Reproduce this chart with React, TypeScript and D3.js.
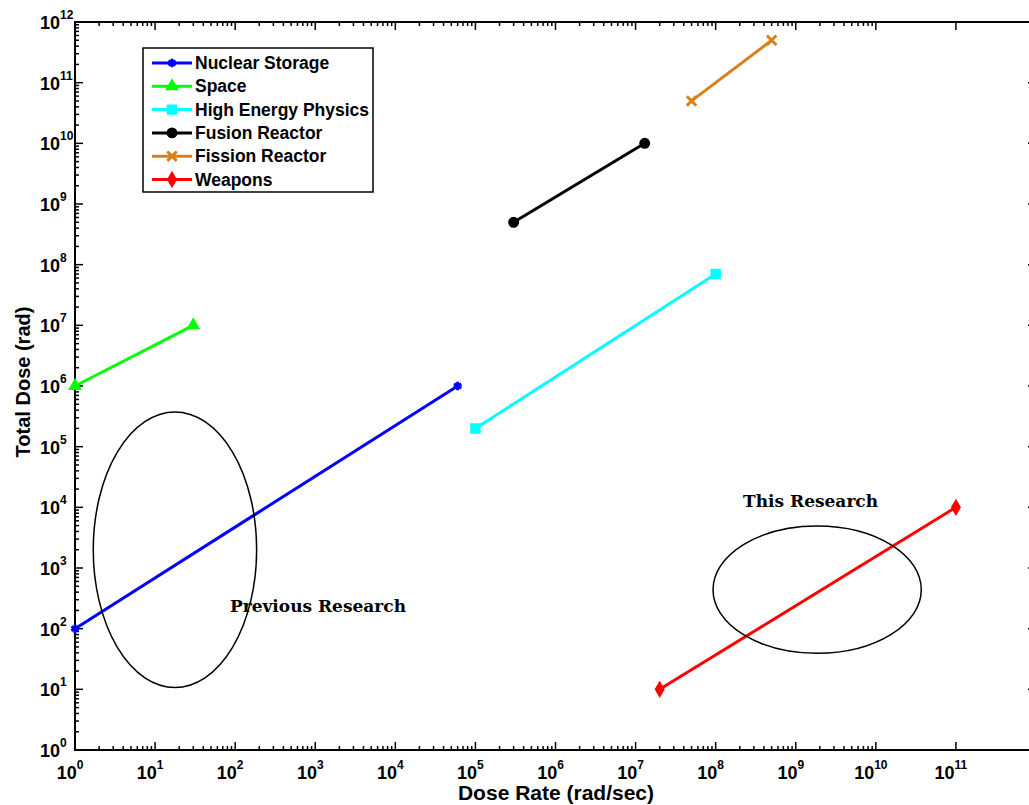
import { useEffect, useRef } from "react";
import * as d3 from "d3";

// Application ranges: [dose rate (rad/sec), total dose (rad)]
const seriesNames = [
  "Nuclear Storage",
  "Space",
  "High Energy Physics",
  "Fusion Reactor",
  "Fission Reactor",
  "Weapons",
];
const seriesColors = ["#0000ff", "#00ff00", "#00ffff", "#000000", "#d98019", "#ff0000"];
const seriesMarkers = ["asterisk", "triangle", "square", "circle", "times", "diamond"];

const nuclearStorage = [[1, 1e2], [6e4, 1e6]];
const space = [[1, 1e6], [3e1, 1e7]];
const highEnergyPhysics = [[1e5, 2e5], [1e8, 7e7]];
const fusionReactor = [[3e5, 5e8], [1.3e7, 1e10]];
const fissionReactor = [[5e7, 5e10], [5e8, 5e11]];
const weapons = [[2e7, 1e1], [1e11, 1e4]];

const seriesData = [nuclearStorage, space, highEnergyPhysics, fusionReactor, fissionReactor, weapons];

// ellipses: centre in data units, radii in decades
const ellipseCenters = [[17.7, 2e3], [1.85e9, 4.4e2]];
const ellipseRadii = [[1.02, 2.27], [1.3, 1.05]];
const annotations = [
  { text: "Previous Research", at: [86, 188] },
  { text: "This Research", at: [2.2e8, 1e4] },
];

const xExponents = d3.range(0, 12);
const yExponents = d3.range(0, 13);

export default function App() {
  const ref = useRef<SVGSVGElement>(null);

  useEffect(() => {
    document.body.style.margin = "0";
    const svg = d3.select(ref.current);
    svg.selectAll("*").remove();

    const left = 75, right = 1036, top = 22, bottom = 750;
    const x = d3.scaleLog().domain([1, 1e12]).range([left, right]);
    const y = d3.scaleLog().domain([1, 1e12]).range([bottom, top]);
    const decX = x(10) - x(1);
    const decY = y(1) - y(10);

    const g = svg.append("g");

    // frame
    g.append("rect")
      .attr("x", left).attr("y", top)
      .attr("width", right - left).attr("height", bottom - top)
      .attr("fill", "none").attr("stroke", "#000").attr("stroke-width", 2);

    // x ticks (minor ticks only up to 1e10, as in the original)
    const ticks = g.append("g").attr("stroke", "#000").attr("stroke-width", 1.5);
    xExponents.forEach((e) => {
      const px = x(Math.pow(10, e));
      ticks.append("line").attr("x1", px).attr("x2", px).attr("y1", bottom).attr("y2", bottom - 8);
      ticks.append("line").attr("x1", px).attr("x2", px).attr("y1", top).attr("y2", top + 8);
      if (e < 10) {
        for (let m = 2; m <= 9; m++) {
          const mx = x(m * Math.pow(10, e));
          ticks.append("line").attr("x1", mx).attr("x2", mx).attr("y1", bottom).attr("y2", bottom - 4);
          ticks.append("line").attr("x1", mx).attr("x2", mx).attr("y1", top).attr("y2", top + 4);
        }
      }
    });
    yExponents.forEach((e) => {
      const py = y(Math.pow(10, e));
      ticks.append("line").attr("x1", left).attr("x2", left + 8).attr("y1", py).attr("y2", py);
      ticks.append("line").attr("x1", right).attr("x2", right - 8).attr("y1", py).attr("y2", py);
      if (e < 12) {
        for (let m = 2; m <= 9; m++) {
          const my = y(m * Math.pow(10, e));
          ticks.append("line").attr("x1", left).attr("x2", left + 4).attr("y1", my).attr("y2", my);
          ticks.append("line").attr("x1", right).attr("x2", right - 4).attr("y1", my).attr("y2", my);
        }
      }
    });

    const font = "'Liberation Sans', Arial, sans-serif";

    // tick labels
    xExponents.forEach((e) => {
      const t = g.append("text")
        .attr("x", x(Math.pow(10, e)) - 5).attr("y", 779)
        .attr("text-anchor", "middle")
        .attr("font-family", font).attr("font-weight", "bold").attr("font-size", 18);
      t.append("tspan").text("10");
      t.append("tspan").attr("dy", -10).attr("font-size", 12).text(String(e));
    });
    yExponents.forEach((e) => {
      const t = g.append("text")
        .attr("x", 40).attr("y", y(Math.pow(10, e)) + 7)
        .attr("font-family", font).attr("font-weight", "bold").attr("font-size", 18);
      t.append("tspan").text("10");
      t.append("tspan").attr("dy", -10).attr("font-size", 12).text(String(e));
    });

    // axis titles
    g.append("text")
      .attr("x", 556).attr("y", 800).attr("text-anchor", "middle")
      .attr("font-family", font).attr("font-weight", "bold").attr("font-size", 21)
      .text("Dose Rate (rad/sec)");
    g.append("text")
      .attr("transform", `translate(30,382) rotate(-90)`).attr("text-anchor", "middle")
      .attr("font-family", font).attr("font-weight", "bold").attr("font-size", 20)
      .text("Total Dose (rad)");

    const symbolFor = (name: string) => {
      switch (name) {
        case "asterisk": return d3.symbol(d3.symbolAsterisk, 50);
        case "triangle": return d3.symbol(d3.symbolTriangle, 55);
        case "square": return d3.symbol(d3.symbolSquare, 80);
        case "circle": return d3.symbol(d3.symbolCircle, 70);
        case "times": return d3.symbol(d3.symbolTimes, 60);
        default: return d3.symbol(d3.symbolDiamond, 60);
      }
    };
    const stroked = (name: string) => name === "asterisk" || name === "times";

    // series
    const line = d3.line<number[]>().x((d) => x(d[0])).y((d) => y(d[1]));
    seriesData.forEach((data, i) => {
      const color = seriesColors[i];
      g.append("path").attr("d", line(data)).attr("fill", "none")
        .attr("stroke", color).attr("stroke-width", 3);
      data.forEach((d) => {
        const m = seriesMarkers[i];
        g.append("path")
          .attr("transform", `translate(${x(d[0])},${y(d[1])})`)
          .attr("d", symbolFor(m)()!)
          .attr("fill", stroked(m) ? "none" : color)
          .attr("stroke", color).attr("stroke-width", stroked(m) ? 3 : 1.5);
      });
    });

    // ellipses
    ellipseCenters.forEach((c, i) => {
      g.append("ellipse")
        .attr("cx", x(c[0])).attr("cy", y(c[1]))
        .attr("rx", ellipseRadii[i][0] * decX).attr("ry", ellipseRadii[i][1] * decY)
        .attr("fill", "none").attr("stroke", "#000").attr("stroke-width", 1.5);
    });
    annotations.forEach((a) => {
      g.append("text")
        .attr("x", x(a.at[0])).attr("y", y(a.at[1]))
        .attr("font-family", "'DejaVu Serif', 'Liberation Serif', serif")
        .attr("font-weight", "bold").attr("font-size", 17)
        .text(a.text);
    });

    // legend
    const lg = g.append("g").attr("transform", "translate(143,48)");
    lg.append("rect").attr("width", 230).attr("height", 144)
      .attr("fill", "#fff").attr("stroke", "#000").attr("stroke-width", 1.5);
    seriesNames.forEach((name, i) => {
      const ly = 15 + i * 23.3;
      const color = seriesColors[i];
      const m = seriesMarkers[i];
      lg.append("line").attr("x1", 9).attr("x2", 49).attr("y1", ly).attr("y2", ly)
        .attr("stroke", color).attr("stroke-width", 3);
      lg.append("path").attr("transform", `translate(29,${ly})`)
        .attr("d", symbolFor(m)()!)
        .attr("fill", stroked(m) ? "none" : color)
        .attr("stroke", color).attr("stroke-width", stroked(m) ? 3 : 1.5);
      lg.append("text").attr("x", 52).attr("y", ly + 6)
        .attr("font-family", font).attr("font-weight", "bold").attr("font-size", 17.5)
        .text(name);
    });
  }, []);

  return (
    <svg ref={ref} width={1029} height={805} style={{ display: "block", background: "#fff" }} />
  );
}
